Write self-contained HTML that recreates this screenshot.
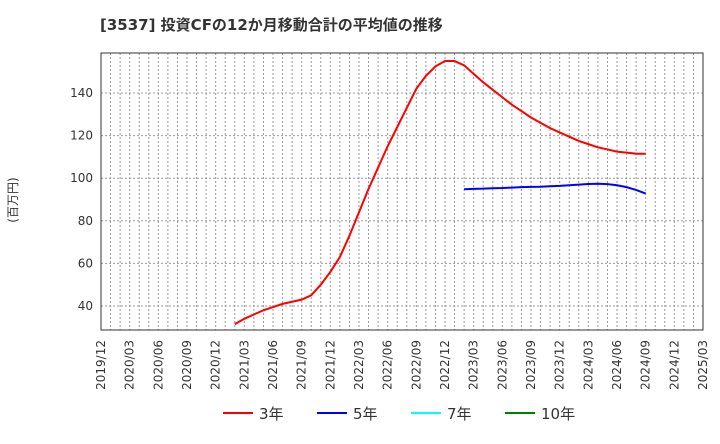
<!DOCTYPE html>
<html><head><meta charset="utf-8"><style>
body{margin:0;background:#fff;font-family:"DejaVu Sans","Noto Sans CJK JP",sans-serif;}
</style></head><body>
<svg width="720" height="440" xmlns="http://www.w3.org/2000/svg" font-family="DejaVu Sans,Noto Sans CJK JP,sans-serif">
<text x="100" y="30" font-size="15" font-weight="bold" fill="#333">[3537]  投資CFの12か月移動合計の平均値の推移</text>
<text transform="translate(17,200) rotate(-90)" text-anchor="middle" font-size="12" fill="#333">(百万円)</text>
<g id="grid"></g><g id="axes"></g><g id="series"></g>
<g id="legend" font-size="15" fill="#333"></g>
</svg>
<script>
const yTicks=[40,60,80,100,120,140];
const red3=[31.5,34,36,38,39.5,41,42,43,45,50,56,63,73,84,95,105,115,124,133,142,148,152.5,155,155,153,149,145,141.5,138,134.5,131.5,128.5,126,123.5,121.5,119.5,117.5,116,114.5,113.5,112.5,112,111.5,111.5];
const red3Start=14;
const blue5=[94.8,95,95.1,95.3,95.4,95.6,95.8,95.9,96,96.2,96.4,96.7,97,97.3,97.4,97.2,96.7,95.8,94.5,92.8];
const blue5Start=38;
const legendLabels=["3年","5年","7年","10年"];
const legendColors=["#ff0000","#0000ff","#00ffff","#008000"];
const NS="http://www.w3.org/2000/svg";
const L=101,R=703,T=53,B=330,nMonths=63;
const x=i=>L+i*(R-L)/nMonths;
const y=v=>306-(v-40)*2.13;
function mk(tag,attrs,parent){const e=document.createElementNS(NS,tag);for(const k in attrs)e.setAttribute(k,attrs[k]);document.getElementById(parent).appendChild(e);return e;}
for(let i=1;i<nMonths;i++){const l=mk('line',{x1:x(i),x2:x(i),y1:T,y2:B,stroke:'#999','stroke-dasharray':'2,2','stroke-width':1},'grid');

}
yTicks.forEach(v=>{const l=mk('line',{x1:L,x2:R,y1:y(v),y2:y(v),stroke:'#999','stroke-dasharray':'2,2'},'grid');


const t=mk('text',{x:L-8,y:y(v)+4,'text-anchor':'end','font-size':12,fill:'#333'},'axes');t.textContent=v;

});
const fr=mk('rect',{x:L,y:T,width:R-L,height:B-T,fill:'none',stroke:'#333'},'axes');


for(let q=0;q<=21;q++){const i=q*3;const yr=2019+Math.floor((11+i)/12);const mo=((11+i)%12)+1;
const t=mk('text',{transform:`translate(${x(i)+4},${B+10}) rotate(-90)`,'text-anchor':'end','font-size':12,fill:'#333'},'axes');
t.textContent=yr+'/'+String(mo).padStart(2,'0');

}
function line(data,start,color,name){const p=mk('polyline',{points:data.map((v,k)=>x(start+k)+','+y(v)).join(' '),fill:'none',stroke:color,'stroke-width':2},'series');

}
line(red3,red3Start,'#ff0000','series-3yr');
line(blue5,blue5Start,'#0000ff','series-5yr');
const lx=[223,317,411,505];
legendLabels.forEach((s,k)=>{const l=mk('line',{x1:lx[k],x2:lx[k]+30,y1:413,y2:413,stroke:legendColors[k],'stroke-width':2},'legend');


const t=mk('text',{x:lx[k]+36,y:419},'legend');t.textContent=s;

});
</script>
</body></html>
